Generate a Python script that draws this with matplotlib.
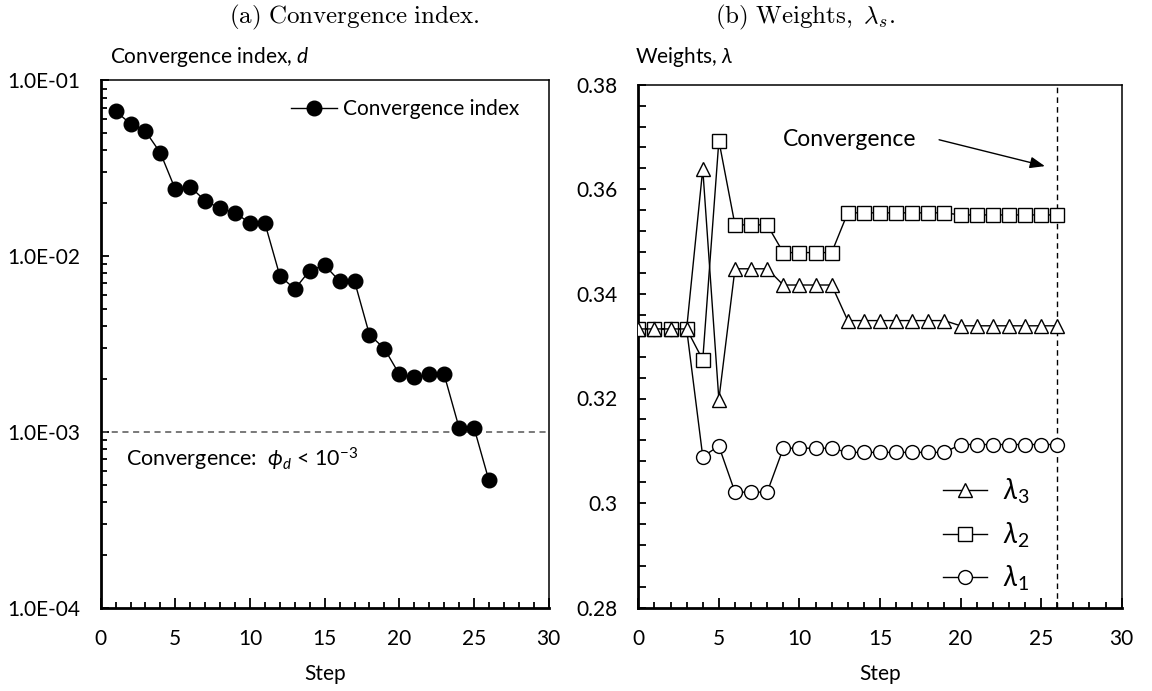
import matplotlib
matplotlib.use('Agg')
import matplotlib.pyplot as plt
from matplotlib.ticker import MultipleLocator, LogLocator, NullFormatter
import numpy as np

plt.rcParams['font.family'] = ['Lato', 'DejaVu Sans']
plt.rcParams['mathtext.fontset'] = 'custom'
plt.rcParams['mathtext.rm'] = 'Lato'
plt.rcParams['mathtext.it'] = 'Lato:italic'
plt.rcParams['mathtext.fallback'] = 'stix'

# (a) convergence index per step
steps_d = list(range(1, 27))
conv_d = [0.0669, 0.0567, 0.0514, 0.0387, 0.0240, 0.0248, 0.0207, 0.0187, 0.0177,
          0.0154, 0.0154, 0.00773, 0.00651, 0.00829, 0.00889, 0.00722, 0.00722,
          0.00358, 0.00298, 0.00213, 0.00205, 0.00213, 0.00213, 0.00106, 0.00106,
          0.000531]
threshold = 1e-3

# (b) weights per step
steps_w = list(range(0, 27))
lam3 = [0.3333, 0.3333, 0.3333, 0.3333, 0.3639, 0.3198, 0.3448, 0.3448, 0.3448,
        0.3417, 0.3417, 0.3417, 0.3417, 0.3349, 0.3349, 0.3349, 0.3349, 0.3349,
        0.3349, 0.3349, 0.3339, 0.3339, 0.3339, 0.3339, 0.3339, 0.3339, 0.3339]
lam2 = [0.3333, 0.3333, 0.3333, 0.3333, 0.3274, 0.3693, 0.3532, 0.3532, 0.3532,
        0.3479, 0.3479, 0.3479, 0.3479, 0.3555, 0.3555, 0.3555, 0.3555, 0.3555,
        0.3555, 0.3555, 0.3551, 0.3551, 0.3551, 0.3551, 0.3551, 0.3551, 0.3551]
lam1 = [0.3333, 0.3333, 0.3333, 0.3333, 0.3089, 0.3109, 0.3021, 0.3021, 0.3021,
        0.3105, 0.3105, 0.3105, 0.3105, 0.3097, 0.3097, 0.3097, 0.3097, 0.3097,
        0.3097, 0.3097, 0.3112, 0.3112, 0.3112, 0.3112, 0.3112, 0.3112, 0.3112]
conv_step = 26

fs = 15
fig = plt.figure(figsize=(11.52, 6.91), dpi=100)
ax1 = fig.add_axes([100.7/1152, 1-607.7/691, (548.6-100.7)/1152, (607.7-80.5)/691])
ax2 = fig.add_axes([638.3/1152, 1-607.7/691, (1121.7-638.3)/1152, (607.7-84.7)/691])

def style(ax):
    ax.spines['left'].set_linewidth(2.0)
    ax.spines['bottom'].set_linewidth(2.0)
    ax.spines['top'].set_linewidth(1.1)
    ax.spines['right'].set_linewidth(1.1)
    ax.tick_params(which='both', direction='in', top=False, right=False,
                   labelsize=fs, width=1.3)
    ax.tick_params(axis='y', which='both', pad=15)
    ax.tick_params(axis='x', which='both', pad=15)
    ax.tick_params(which='major', length=6)
    ax.tick_params(which='minor', length=4.5)
    ax.tick_params(axis='x', which='major', length=7)
    ax.set_xlim(0, 30)
    ax.xaxis.set_major_locator(MultipleLocator(5))
    ax.xaxis.set_minor_locator(MultipleLocator(1))
    ax.set_xlabel('Step', fontsize=fs, labelpad=11)

# ---- left panel
style(ax1)
ax1.set_yscale('log')
ax1.set_ylim(1e-4, 1e-1)
ax1.yaxis.set_minor_locator(LogLocator(base=10, subs=np.arange(2, 10), numticks=10))
ax1.yaxis.set_minor_formatter(NullFormatter())
ax1.set_yticks([1e-4, 1e-3, 1e-2, 1e-1])
ax1.set_yticklabels(['1.0E-04', '1.0E-03', '1.0E-02', '1.0E-01'])
ax1.axhline(threshold, color='#555555', lw=1.1, ls=(0, (4, 3)))
ax1.plot(steps_d, conv_d, 'k-', lw=1.0, marker='o', ms=10.5, mfc='k', mec='k',
         label='Convergence index')
ax1.legend(loc='upper left', bbox_to_anchor=(0.425, 0.965), frameon=False, fontsize=fs,
           handlelength=2.2, handletextpad=0.3, borderpad=0, borderaxespad=0)
ax1.text(1.7, 7.0e-4, r'Convergence:  $\phi_d$ < 10$^{-3}$', fontsize=fs + 0.5,
         va='center')
fig.text(110/1152, 1-57/691, r'Convergence index, $d$', fontsize=fs, va='center')

# ---- right panel
style(ax2)
ax2.set_ylim(0.28, 0.38)
ax2.yaxis.set_minor_locator(MultipleLocator(0.004))
ax2.tick_params(axis='y', which='minor', length=6)
ax2.set_yticks([0.28, 0.30, 0.32, 0.34, 0.36, 0.38])
ax2.set_yticklabels(['0.28', '0.3', '0.32', '0.34', '0.36', '0.38'])
ax2.axvline(conv_step, color='k', lw=1.0, ls=(0, (4, 3)))
ax2.plot(steps_w, lam1, 'k-', lw=1.0, marker='o', ms=10, mfc='w', mec='k', mew=1.0,
         label=r'$\lambda_1$', zorder=3)
ax2.plot(steps_w, lam2, 'k-', lw=1.0, marker='s', ms=9.5, mfc='w', mec='k', mew=1.0,
         label=r'$\lambda_2$', zorder=3)
ax2.plot(steps_w, lam3, 'k-', lw=1.0, marker='^', ms=10, mfc='w', mec='k', mew=1.0,
         label=r'$\lambda_3$', zorder=3)
h, l = ax2.get_legend_handles_labels()
ax2.legend(h[::-1], l[::-1], loc='upper left', bbox_to_anchor=(0.63, 0.25),
           frameon=False, fontsize=fs + 5, handlelength=1.6, handletextpad=0.55,
           labelspacing=0.5, borderpad=0, borderaxespad=0)
ax2.annotate('', xy=(25.4, 0.3643), xytext=(18.5, 0.3696),
             arrowprops=dict(arrowstyle='-|>,head_length=0.9,head_width=0.35',
                             color='k', lw=1.0))
ax2.text(13.1, 0.3696, 'Convergence', fontsize=fs + 1.5, ha='center', va='center')
fig.text(635/1152, 1-57/691, r'Weights, $\lambda$', fontsize=fs, va='center')

# panel captions
fig.text(354/1152, 1-17/691, r'$\mathrm{(a)\ Convergence\ index.}$', fontsize=18,
         ha='center', va='center', math_fontfamily='cm')
fig.text(805/1152, 1-17/691, r'$\mathrm{(b)\ Weights,}\ \lambda_s\mathrm{.}$', fontsize=18,
         ha='center', va='center', math_fontfamily='cm')

fig.savefig('out.png', dpi=100)
